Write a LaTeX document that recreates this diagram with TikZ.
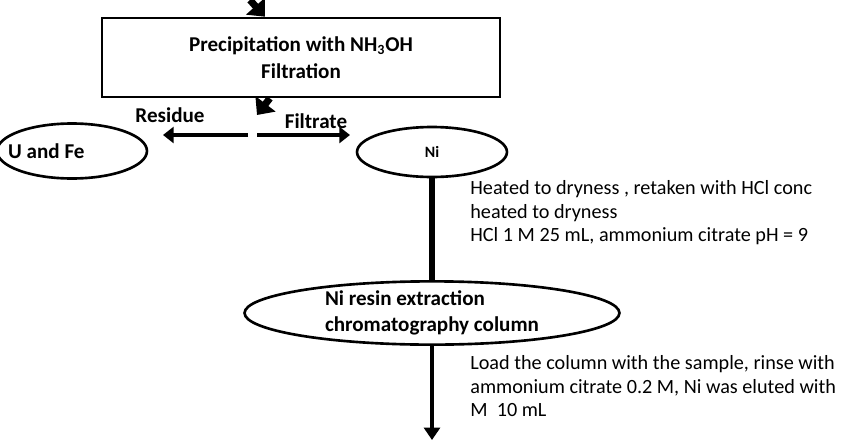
\documentclass[tikz,border=0pt]{standalone}
\usepackage{fontspec}
\setmainfont{Carlito}
\usetikzlibrary{shapes.geometric, arrows.meta, positioning}
\tikzstyle{process} = [rectangle, draw=black, line width=1.5pt, minimum width=7.96cm, minimum height=1.58cm, align=center, font=\fontsize{12}{15}\selectfont\bfseries]
\tikzstyle{product} = [ellipse, draw=black, line width=1.5pt, font=\fontsize{12}{15}\selectfont\bfseries, inner sep=0pt]
\tikzstyle{note} = [anchor=north west, align=left, font=\fontsize{11.5}{13.5}\selectfont, inner sep=0pt]
\tikzstyle{arrow} = [line width=2.5pt, -{Triangle[width=9pt,length=6pt]}]
\tikzstyle{bigarrow} = [line width=4pt, -{Triangle[width=14pt,length=8pt]}]
\begin{document}
\begin{tikzpicture}[x=0.02cm, y=-0.02cm]
    \useasboundingbox (0,0) rectangle (850,440);
    \clip (0,0) rectangle (850,440);
        \coordinate (top) at (250,0);
        \node (prec) [process] at (301,57.5) {Precipitation with NH\textsubscript{3}OH\\Filtration};
        \coordinate (split) at (257,115);
        \coordinate (splitl) at (248,135);
        \coordinate (splitr) at (257,135);
        \node (ufe) [product, minimum width=3cm, minimum height=1.1cm] at (72,151) {};
        \node [right, font=\fontsize{12}{15}\selectfont\bfseries] at (2,151) {U and Fe};
        \node (ni) [product, minimum width=3cm, minimum height=1cm, font=\fontsize{9}{11}\selectfont\bfseries] at (432,152) {Ni};
        \node (resin) [product, minimum width=7.5cm, minimum height=1.24cm, align=left] at (432,313) {Ni resin extraction\\chromatography column};
        \coordinate (bottom) at (432,440);
        \node (residue) [font=\fontsize{12}{15}\selectfont\bfseries] at (170,115) {Residue};
        \node (filtrate) [font=\fontsize{12}{15}\selectfont\bfseries] at (316,121) {Filtrate};
        \node (step1) [note] at (470,180) {Heated to dryness , retaken with HCl conc\\heated to dryness\\ HCl 1 M 25 mL, ammonium citrate pH = 9};
        \node (step2) [note] at (470,355) {Load the column with the sample, rinse with\\ammonium citrate 0.2 M, Ni was eluted with\\M\ \ 10 mL};

        \draw [bigarrow] (top) -- (prec);
        \draw [bigarrow] (prec) -- (split);
        \draw [arrow] (splitl) -- (163,135);
        \draw [arrow] (splitr) -- (350,135);
        \draw [line width=3pt] (ni) -- (resin);
        \draw [line width=2.5pt, -{Triangle[width=9pt,length=7pt]}] (resin) -- (bottom);
    \end{tikzpicture}
\end{document}
